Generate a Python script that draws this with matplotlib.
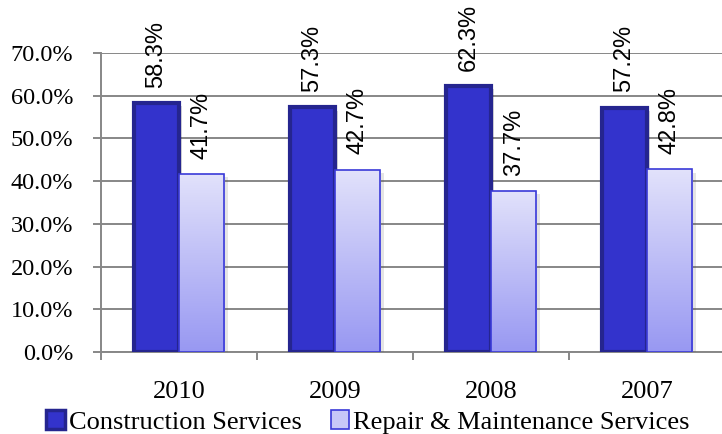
import numpy as np
import matplotlib.pyplot as plt
import matplotlib.patheffects as pe
from matplotlib.patches import Rectangle, Patch
from matplotlib.colors import LinearSegmentedColormap

# data
years = ["2010", "2009", "2008", "2007"]
construction = [58.3, 57.3, 62.3, 57.2]
repair = [41.7, 42.7, 37.7, 42.8]
series_names = ["Construction Services", "Repair & Maintenance Services"]
yticks = [0, 10, 20, 30, 40, 50, 60, 70]

grid_col = "#878787"
dark_fill = "#3333CC"
dark_edge = "#25258F"
serif = "Liberation Serif"
sans = "Liberation Sans"

plt.rcParams["font.family"] = serif

fig = plt.figure(figsize=(7.22, 4.34), dpi=100)
ax = fig.add_axes([101 / 722, 1 - 352 / 434, 624 / 722, 299 / 434])

x = np.arange(len(years))
w = 0.29

shadow = [pe.SimplePatchShadow(offset=(2.5, -2.5), shadow_rgbFace="#000000", alpha=0.15), pe.Normal()]

# dark bars
ax.bar(x - w / 2, construction, w, color=dark_fill, edgecolor=dark_edge, linewidth=3.0,
       zorder=3, path_effects=shadow)

# light bars with vertical gradient
grad = np.linspace(0, 1, 256).reshape(-1, 1)
cmap = LinearSegmentedColormap.from_list("lb", ["#9898F2", "#E2E2FB"])
bars2 = ax.bar(x + w / 2, repair, w, color="none", edgecolor="#3A3AD8", linewidth=1.2,
               zorder=4)
for b in bars2:
    bx, by = b.get_x(), b.get_y()
    bw, bh = b.get_width(), b.get_height()
    shp = Rectangle((bx, by), bw, bh, facecolor="white", edgecolor="none", zorder=3.4,
                    path_effects=[pe.SimplePatchShadow(offset=(2.5, -2.5), alpha=0.15)])
    ax.add_patch(shp)
    im = ax.imshow(grad, extent=(bx, bx + bw, by, by + bh), aspect="auto",
                   cmap=cmap, origin="lower", zorder=3.5)
    im.set_clip_path(Rectangle((bx, by), bw, bh, transform=ax.transData))

ax.set_xlim(-0.5, len(years) - 0.5)
ax.set_ylim(0, 70)

# data labels
for xi, v in zip(x, construction):
    ax.annotate(f"{v:.1f}%", (xi - w / 2, v), xytext=(0, 11), textcoords="offset points",
                rotation=90, ha="center", va="bottom", fontsize=17, fontfamily=sans,
                zorder=6, annotation_clip=False)
for xi, v in zip(x, repair):
    ax.annotate(f"{v:.1f}%", (xi + w / 2, v), xytext=(0, 11), textcoords="offset points",
                rotation=90, ha="center", va="bottom", fontsize=17, fontfamily=sans,
                zorder=6, annotation_clip=False)

# grid and axes
ax.set_yticks(yticks)
ax.set_yticklabels([f"{t:.1f}%" for t in yticks])
ax.yaxis.grid(True, color=grid_col, linewidth=1.4, zorder=0)
ax.set_axisbelow(True)
ax.set_xticks(np.arange(len(years) + 1) - 0.5)
ax.set_xticklabels([])
ax.set_xticks(x, minor=True)
ax.set_xticklabels(years, minor=True)
ax.tick_params(axis="x", which="minor", length=0, pad=21, labelsize=19,
               labelfontfamily=serif)
ax.tick_params(axis="x", which="major", length=6, width=1.4, color=grid_col)
ax.tick_params(axis="y", length=6, width=1.4, color=grid_col, pad=14, labelsize=17.5,
               labelfontfamily=serif)
for s in ["top", "right"]:
    ax.spines[s].set_visible(False)
for s in ["left", "bottom"]:
    ax.spines[s].set_color(grid_col)
    ax.spines[s].set_linewidth(1.4)

handles = [Patch(facecolor=dark_fill, edgecolor=dark_edge, linewidth=2.5),
           Patch(facecolor="#C8C8F8", edgecolor="#3A3AD8", linewidth=1.2)]
fig.legend(handles, series_names, loc="center", bbox_to_anchor=(0.5 + 7 / 722, 1 - 422 / 434),
           ncol=2, frameon=False, prop={"family": serif, "size": 19},
           handlelength=0.7, handleheight=0.7, handletextpad=0.15, columnspacing=1.1,
           borderpad=0)

fig.savefig("out.png", dpi=100)
